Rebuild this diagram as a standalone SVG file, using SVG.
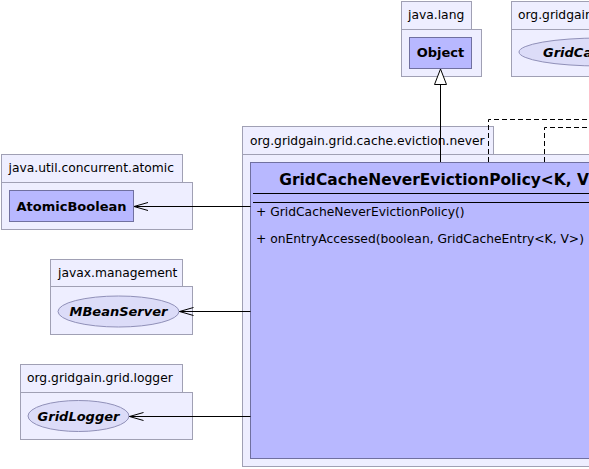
<svg xmlns="http://www.w3.org/2000/svg" width="589" height="469" viewBox="0 0 589 469">
<defs>
<style>
.pkg{fill:#eeeeff;stroke:#a0a0b4;stroke-width:1}
.cls{fill:#b8b8ff;stroke:#7070a0;stroke-width:1}
.ifc{fill:#dcdcf8;stroke:#9090b8;stroke-width:1}
.lbl{font-family:"DejaVu Sans",sans-serif;font-size:12.3px;fill:#000}
.bold{font-family:"DejaVu Sans",sans-serif;font-size:13px;font-weight:bold;fill:#000}
.ital{font-family:"DejaVu Sans",sans-serif;font-size:13px;font-weight:bold;font-style:italic;fill:#000}
.title{font-family:"DejaVu Sans",sans-serif;font-size:15.45px;font-weight:bold;fill:#000}
.edge{stroke:#000;stroke-width:1;fill:none}
.dash{stroke:#000;stroke-width:1;fill:none;stroke-dasharray:5,3}
</style>
<marker id="open" markerWidth="15" markerHeight="10" refX="14" refY="5" orient="auto" markerUnits="userSpaceOnUse">
<path d="M0,1 L14,5 L0,9" fill="none" stroke="#000" stroke-width="1"/>
</marker>
</defs>

<g id="pkg-java-lang">
<rect class="pkg" x="401.5" y="1.5" width="70" height="28"/>
<rect class="pkg" x="401.5" y="29.5" width="80" height="47"/>
<text class="lbl" x="408" y="19">java.lang</text>
</g>
<g id="node-Object">
<rect class="cls" x="409.5" y="37.5" width="62" height="31"/>
<text class="bold" x="440.5" y="57" text-anchor="middle">Object</text>
</g>

<g id="pkg-org-gridgain">
<rect class="pkg" x="511.5" y="1.5" width="90" height="28"/>
<rect class="pkg" x="511.5" y="29.5" width="100" height="47"/>
<text class="lbl" x="518" y="19">org.gridgain.grid.cache</text>
</g>
<g id="node-GridCache">
<ellipse class="ifc" cx="600" cy="52" rx="81" ry="14"/>
<text class="ital" x="543" y="57">GridCacheEvictionPolicy</text>
</g>

<g id="pkg-eviction-never">
<rect class="pkg" x="242.5" y="126.5" width="251" height="28"/>
<rect class="pkg" x="242.5" y="154.5" width="400" height="312"/>
<text class="lbl" x="250" y="145">org.gridgain.grid.cache.eviction.never</text>
</g>
<g id="node-GridCacheNeverEvictionPolicy">
<rect class="cls" x="250.5" y="162.5" width="380" height="296"/>
<text class="title" x="279.3" y="184.5">GridCacheNeverEvictionPolicy&lt;K, V&gt;</text>
<line class="edge" x1="253" y1="193.5" x2="628" y2="193.5"/>
<line class="edge" x1="253" y1="202.5" x2="628" y2="202.5"/>
<text class="lbl" x="256" y="215.5">+ GridCacheNeverEvictionPolicy()</text>
<text class="lbl" x="256" y="242.5">+ onEntryAccessed(boolean, GridCacheEntry&lt;K, V&gt;)</text>
</g>

<g id="pkg-atomic">
<rect class="pkg" x="1.5" y="154.5" width="181" height="28"/>
<rect class="pkg" x="1.5" y="182.5" width="191" height="47"/>
<text class="lbl" x="8.5" y="171.5">java.util.concurrent.atomic</text>
</g>
<g id="node-AtomicBoolean">
<rect class="cls" x="9.5" y="190.5" width="124" height="31"/>
<text class="bold" x="71.5" y="210.5" text-anchor="middle">AtomicBoolean</text>
</g>

<g id="pkg-management">
<rect class="pkg" x="50.5" y="259.5" width="132" height="27"/>
<rect class="pkg" x="50.5" y="286.5" width="142" height="48"/>
<text class="lbl" x="58" y="277">javax.management</text>
</g>
<g id="node-MBeanServer">
<ellipse class="ifc" cx="118.5" cy="311.5" rx="60.5" ry="15.5"/>
<text class="ital" x="118.5" y="316" text-anchor="middle">MBeanServer</text>
</g>

<g id="pkg-logger">
<rect class="pkg" x="20.5" y="364.5" width="162" height="28"/>
<rect class="pkg" x="20.5" y="392.5" width="172" height="47"/>
<text class="lbl" x="27" y="382">org.gridgain.grid.logger</text>
</g>
<g id="node-GridLogger">
<ellipse class="ifc" cx="78.5" cy="416" rx="50.5" ry="15.5"/>
<text class="ital" x="78.5" y="420.5" text-anchor="middle">GridLogger</text>
</g>

<g id="connectors">
<line class="edge" x1="440.5" y1="162" x2="440.5" y2="84.5"/>
<path d="M440.5,69 L446.5,84.5 L434.5,84.5 Z" fill="#fff" stroke="#000" stroke-width="1"/>
<path class="dash" d="M488.5,162 L488.5,119.5 L589,119.5"/>
<path class="dash" d="M544.5,162 L544.5,127.5 L589,127.5"/>
<line class="edge" x1="250.5" y1="206.5" x2="134" y2="206.5" marker-end="url(#open)"/>
<line class="edge" x1="250.5" y1="311.5" x2="179.5" y2="311.5" marker-end="url(#open)"/>
<line class="edge" x1="250.5" y1="416.5" x2="129.5" y2="416.5" marker-end="url(#open)"/>
</g>
</svg>
